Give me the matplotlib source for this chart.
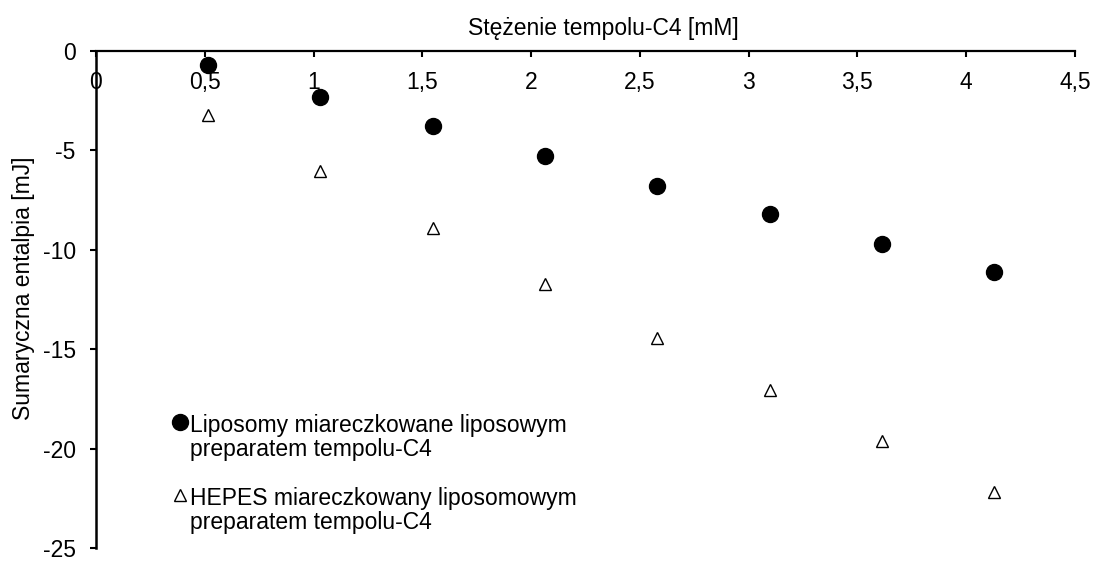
import numpy as np
import matplotlib.pyplot as plt
from matplotlib.ticker import FuncFormatter

plt.rcParams['font.family'] = ['Liberation Sans', 'DejaVu Sans']

# stezenie tempolu-C4 [mM]
conc = [0.516, 1.032, 1.548, 2.064, 2.580, 3.096, 3.612, 4.128]
# sumaryczna entalpia [mJ]
liposomy = [-0.70, -2.31, -3.77, -5.28, -6.79, -8.20, -9.71, -11.12]
hepes = [-3.22, -6.04, -8.90, -11.72, -14.44, -17.05, -19.62, -22.18]

label_lip = "Liposomy miareczkowane liposowym\npreparatem tempolu-C4"
label_hep = "HEPES miareczkowany liposomowym\npreparatem tempolu-C4"

fs = 16.5

fig = plt.figure(figsize=(10.93, 5.61), dpi=100)
ax = fig.add_axes([0.0878, 0.0232, 0.8957, 0.886])

ax.plot(conc, liposomy, 'o', color='black', markersize=11.5, linestyle='none',
        label=label_lip, clip_on=False)
ax.plot(conc, hepes, '^', markerfacecolor='white', markeredgecolor='black',
        markersize=8.5, markeredgewidth=1.0, linestyle='none',
        label=label_hep, clip_on=False)

ax.set_xlim(0, 4.5)
ax.set_ylim(-25, 0)
ax.set_xticks(np.arange(0, 4.51, 0.5))
ax.set_yticks(np.arange(-25, 0.1, 5))

comma = FuncFormatter(lambda v, p: f"{v:g}".replace('.', ','))
ax.xaxis.set_major_formatter(comma)
ax.yaxis.set_major_formatter(comma)

for s in ['top', 'right']:
    ax.spines[s].set_visible(False)
ax.spines['bottom'].set_position(('data', 0))
ax.spines['bottom'].set_linewidth(1.6)
ax.spines['left'].set_linewidth(1.8)

ax.tick_params(axis='x', direction='out', length=4.5, width=1.5, pad=10,
               labelsize=fs)
ax.tick_params(axis='y', direction='out', length=4.5, width=1.5, pad=10,
               labelsize=fs)

ax.text(0.518, 1.045, "Stężenie tempolu-C4 [mM]", transform=ax.transAxes,
        ha='center', va='center', fontsize=fs)
ax.set_ylabel("Sumaryczna entalpia [mJ]", fontsize=fs)
ax.yaxis.set_label_coords(-0.062, 0.523)

leg = ax.legend(loc='upper left', bbox_to_anchor=(0.0752, 0.270),
                frameon=False, fontsize=fs, handlelength=0.9,
                handletextpad=0.0, borderaxespad=0, borderpad=0,
                labelspacing=1.15)
for t in leg.get_texts():
    t.set_linespacing(1.05)
# put the marker next to the first line of each label
for col in leg._legend_handle_box.get_children():
    for row in col.get_children():
        row.align = 'top'

fig.savefig('out.png', dpi=100)
